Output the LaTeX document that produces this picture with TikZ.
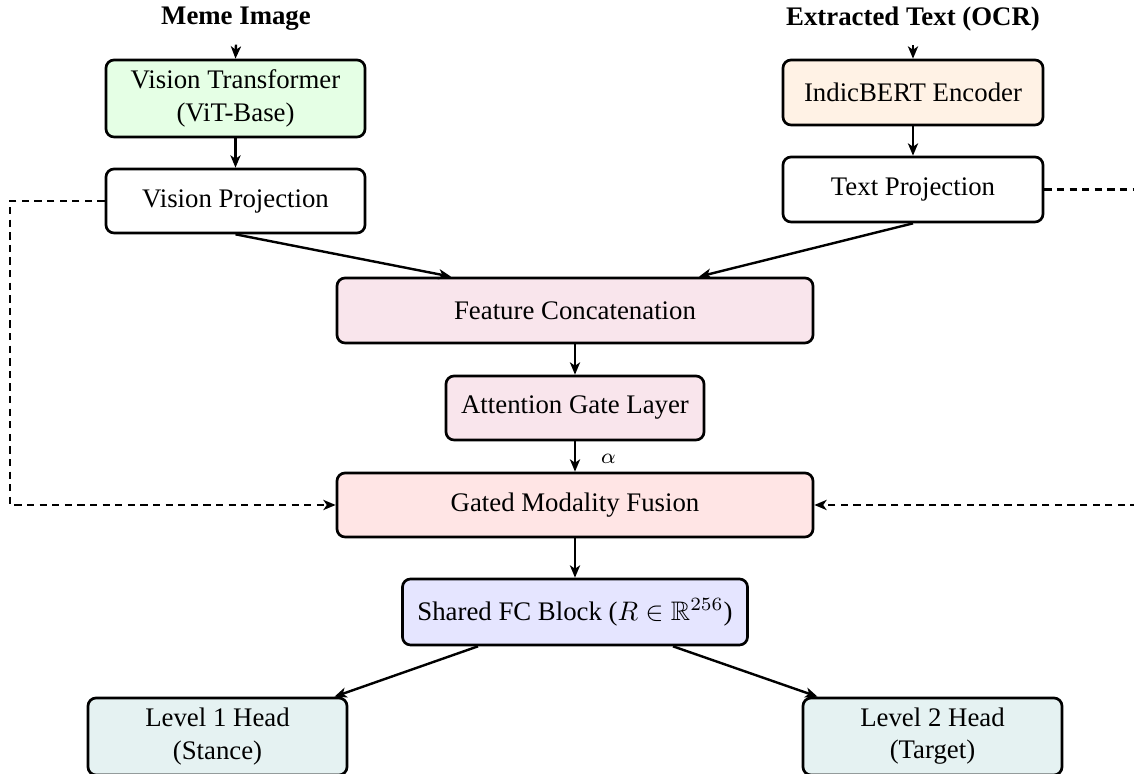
\documentclass[tikz,border=0pt]{standalone}
\usepackage{amssymb}
\usepackage{fontspec}
\setmainfont{Liberation Serif}
\usetikzlibrary{calc,arrows.meta}
\newdimen\px \px=0.3731pt
\tikzset{
  box/.style={draw, line width=1pt, rounded corners=3pt, inner sep=0pt, align=center},
  lbl/.style={font=\bfseries, inner sep=5pt},
  tip/.style={-{Stealth[length=4.6pt, width=3.8pt, inset=1.3pt]}},
  arr/.style={tip, line width=0.9pt},
  darr/.style={tip, line width=0.9pt, dash pattern=on 2.7pt off 2pt},
}
\begin{document}
\begin{tikzpicture}[x=0.3731pt, y=-0.3731pt]
\useasboundingbox (0,0) rectangle (1134,774);
% inputs
\node[lbl] (meme) at (236,19) {Meme Image};
\node[lbl] (ocr) at (913,19) {Extracted Text (OCR)};
% encoders
\node[box, fill=green!10, minimum width=259\px, minimum height=77\px] (vit) at (235.5,98.5) {Vision Transformer\\(ViT-Base)};
\node[box, fill=white, minimum width=259\px, minimum height=64\px] (vp) at (235.5,201) {Vision Projection};
\node[box, fill=orange!10, minimum width=260\px, minimum height=65\px] (ib) at (913,92.5) {IndicBERT Encoder};
\node[box, fill=white, minimum width=260\px, minimum height=65\px] (tp) at (913,189.5) {Text Projection};
% fusion
\node[box, fill=purple!10, minimum width=476\px, minimum height=65\px] (fc) at (575,310.5) {Feature Concatenation};
\node[box, fill=purple!10, minimum width=258\px, minimum height=64\px] (agl) at (575,408) {Attention Gate Layer};
\node[box, fill=red!10, minimum width=476\px, minimum height=64\px] (gmf) at (575,505) {Gated Modality Fusion};
\node[box, fill=blue!10, minimum width=345\px, minimum height=66\px] (sfc) at (575,612) {Shared FC Block ($R \in \mathbb{R}^{256}$)};
% heads
\node[box, fill=teal!10, minimum width=259\px, minimum height=77\px] (l1) at (217.5,736.5) {Level 1 Head\\(Stance)};
\node[box, fill=teal!10, minimum width=259\px, minimum height=77\px] (l2) at (932.5,736.5) {Level 2 Head\\(Target)};
% connectors
\draw[arr] (meme.south) -- (vit.north);
\draw[arr] (ocr.south) -- (ib.north);
\draw[arr] (vit.south) -- (vp.north);
\draw[arr] (ib.south) -- (tp.north);
\draw[arr] (vp.south) -- ($(fc.north)+(-124,0)$);
\draw[arr] (tp.south) -- ($(fc.north)+(124,0)$);
\draw[arr] (fc.south) -- (agl.north);
\draw[arr] (agl.south) -- node[right, xshift=6pt, yshift=-1pt, font=\footnotesize] {$\alpha$} (gmf.north);
\draw[darr] (vp.west) -- (10,201) |- (gmf.west);
\draw[darr] (tp.east) -- (1160,189.5) |- (gmf.east);
\draw[arr] (gmf.south) -- (sfc.north);
\draw[arr] ($(sfc.south)+(-97,0)$) -- ($(l1.north)+(117,0)$);
\draw[arr] ($(sfc.south)+(98,0)$) -- ($(l2.north)+(-115,0)$);
\end{tikzpicture}
\end{document}
